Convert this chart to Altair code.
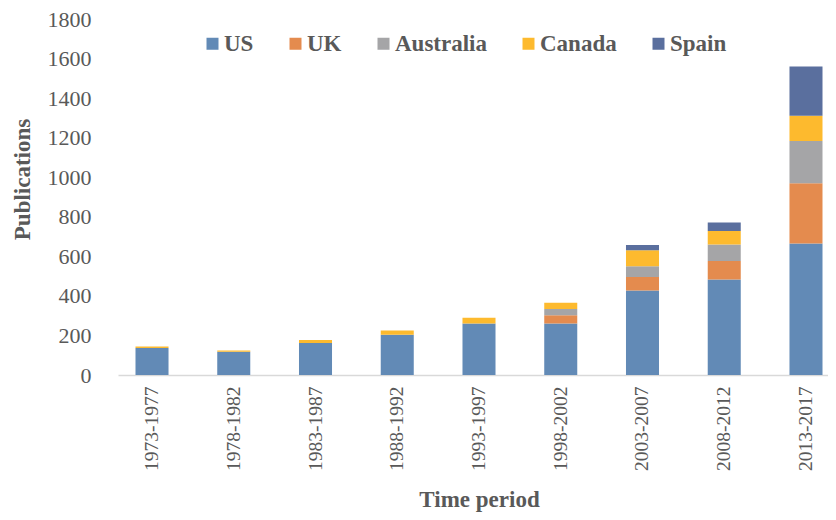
import altair as alt
import pandas as pd

periods = ["1973-1977", "1978-1982", "1983-1987", "1988-1992", "1993-1997",
           "1998-2002", "2003-2007", "2008-2012", "2013-2017"]
countries = ["US", "UK", "Australia", "Canada", "Spain"]
us = [137, 118, 162, 203, 260, 260, 427, 483, 665]
uk = [0, 0, 0, 0, 0, 42, 68, 93, 304]
au = [0, 0, 0, 0, 0, 32, 55, 84, 214]
ca = [7, 6, 15, 22, 29, 31, 81, 68, 128]
es = [0, 0, 0, 0, 0, 0, 26, 43, 249]
colors = ["#628AB6", "#E48B4E", "#A5A5A7", "#FDBA2E", "#5A6F9E"]
y_ticks = [0, 200, 400, 600, 800, 1000, 1200, 1400, 1600, 1800]

rows = []
for ci, (c, vals) in enumerate(zip(countries, [us, uk, au, ca, es])):
    for p, v in zip(periods, vals):
        if v > 0:
            rows.append({"period": p, "country": c, "value": v, "ord": ci})
df = pd.DataFrame(rows)

FONT = "Liberation Serif"
GREY = "#595959"

chart = alt.Chart(df).mark_bar().encode(
    x=alt.X("period:N", sort=periods, title="Time period",
            scale=alt.Scale(paddingInner=0.596, paddingOuter=0.214,
                            range=[0, 722]),
            axis=alt.Axis(labelAngle=-90, labelPadding=11, ticks=False,
                          domainColor="#D9D9D9", domainWidth=1.5,
                          labelFontSize=19.5, labelColor=GREY, labelFont=FONT,
                          titleFontSize=23, titleFont=FONT, titleColor=GREY,
                          titleFontWeight="bold", titlePadding=18)),
    y=alt.Y("value:Q", title="Publications", stack="zero",
            scale=alt.Scale(domain=[0, 1800], nice=False),
            axis=alt.Axis(values=y_ticks, format="d", grid=False, domain=False,
                          ticks=False, labelPadding=27, labelFontSize=22,
                          labelColor=GREY, labelFont=FONT, titleFontSize=23,
                          titleFont=FONT, titleColor=GREY,
                          titleFontWeight="bold", titlePadding=13,
                          titleY=160)),
    color=alt.Color("country:N", sort=countries, title=None,
                    scale=alt.Scale(domain=countries, range=colors),
                    legend=alt.Legend(orient="none", direction="horizontal",
                                      legendX=83, legendY=13,
                                      symbolType="square", symbolSize=144,
                                      symbolStrokeWidth=0, labelFontSize=23,
                                      labelFont=FONT, labelFontWeight="bold",
                                      labelColor=GREY, labelOffset=0,
                                      columnPadding=30)),
    order=alt.Order("ord:Q", sort="ascending"),
).properties(
    width=710, height=356,
    autosize=alt.AutoSizeParams(type="none"),
    padding={"left": 110, "top": 11, "right": 0, "bottom": 137},
).configure_view(stroke=None)

chart.save("out.html", embed_options={"renderer": "svg", "actions": False})
